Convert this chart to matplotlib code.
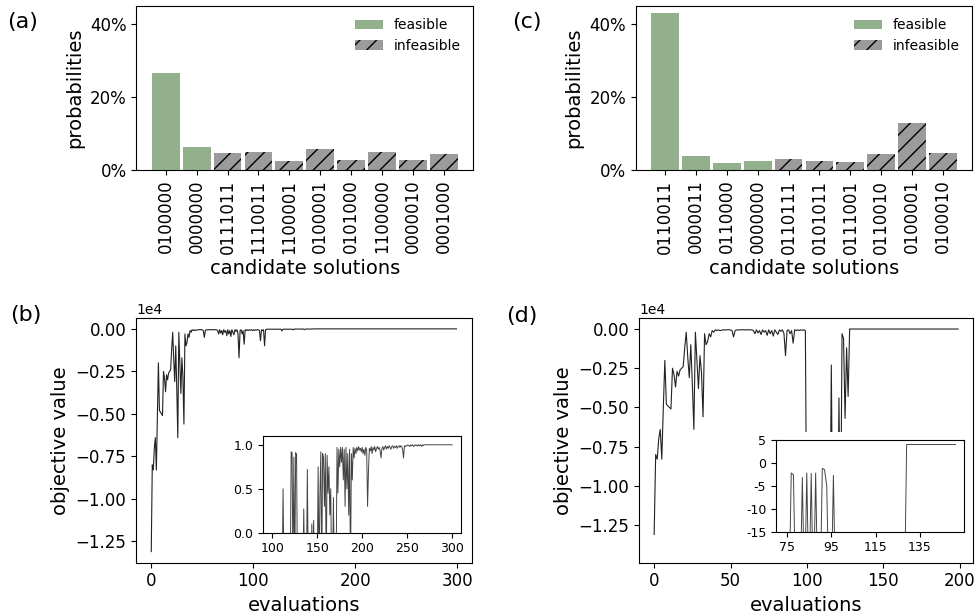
import numpy as np
import matplotlib.pyplot as plt
from matplotlib.ticker import PercentFormatter, MultipleLocator
from matplotlib.patches import Rectangle

# bar chart data (a) and (c)
labels_a = ['0100000', '0000000', '0111011', '1110011', '1100001',
            '0100001', '0101000', '1100000', '0000010', '0001000']
probs_a = [0.265, 0.064, 0.046, 0.050, 0.0255, 0.057, 0.027, 0.048, 0.028, 0.043]
feasible_a = [True, True, False, False, False, False, False, False, False, False]

labels_c = ['0110011', '0000011', '0110000', '0000000', '0110111',
            '0101011', '0111001', '0110010', '0100001', '0100010']
probs_c = [0.429, 0.039, 0.018, 0.024, 0.031, 0.025, 0.022, 0.044, 0.128, 0.047]
feasible_c = [True, True, True, True, False, False, False, False, False, False]

# objective value (units of 1e4), evaluations 0..99 shared by (b) and (d)
obj_start = [-1.31, -0.80, -0.83, -0.70, -0.64, -0.83, -0.50, -0.20, -0.48, -0.49,
             -0.50, -0.51, -0.25, -0.29, -0.37, -0.27, -0.30, -0.26, -0.25, -0.24,
             -0.12, -0.02, -0.18, -0.31, -0.10, -0.35, -0.64, -0.02, -0.20, -0.38,
             -0.17, -0.28, -0.56, -0.03, -0.10, -0.08, -0.03, -0.05, -0.01, -0.02,
             -0.005, -0.01, -0.005, -0.01, -0.008, -0.005, -0.006, -0.005, -0.005, -0.004,
             -0.006, -0.01, -0.05, -0.01, -0.005, -0.006, -0.005, -0.005, -0.004, -0.005,
             -0.006, -0.005, -0.004, -0.006, -0.005, -0.01, -0.03, -0.005, -0.025, -0.01,
             -0.035, -0.005, -0.02, -0.01, -0.04, -0.005, -0.03, -0.01, -0.045, -0.005,
             -0.02, -0.035, -0.005, -0.015, -0.005, -0.03, -0.17, -0.01, -0.005, -0.03,
             -0.01, -0.09, -0.005, -0.01, -0.005, -0.01, -0.005, -0.008, -0.005, -0.01]

# (b) evaluations 100..299
obj_tail_b = ([-0.005, -0.01, -0.005, -0.008, -0.004, -0.006, -0.01, -0.07, -0.005, -0.01,
               -0.005, -0.10, -0.005] + [-0.002] * 15 + [-0.012] + [-0.002] * 10 + [-0.006]
              + [-0.001] * 10 + [-0.005] + [-0.001] * 8 + [0.0] * 141)

# (d) evaluations 100..199 (the low values sit hidden behind the inset)
obj_tail_d = ([-1.47] * 16 + [-0.23, -1.47, -1.47, -1.47, -1.47, -0.44, -1.47, -0.03, -0.06,
                              -0.57, -0.12, -0.43] + [0.0] * 72)

# inset (b), evaluations 100..300
inset_b = ([-0.5] * 12 + [0.5] + [-0.5] * 8
           + [0.92, 0.91, -0.5, 0.86, -0.5, 0.91, 0.89, -0.5]
           + [-0.5] * 6 + [0.27] + [-0.5] * 3 + [0.72] + [-0.5] * 4
           + [0.10, -0.5, 0.14] + [-0.5] * 4 + [0.75] + [-0.5]
           + [0.42, 0.92, -0.5, 0.90, 0.85, 0.3, 0.90, -0.5, 0.88, 0.45, 0.75, 0.2, 0.5, -0.5]
           + [-0.5, 0.4, -0.5, -0.5, -0.5]
           + [0.97, 0.45, 0.95, 0.75, 0.97, 0.8, 0.97, 0.6, 0.95, 0.3, 0.97, 0.5, 0.9, 0.2,
              0.95, -0.5, 0.9, 0.6, 0.97, 0.85, 0.96, 0.9, 0.97, 0.93, 0.98, 0.94, 0.96,
              0.92, 0.97, 0.9, 0.95, 0.88, 0.97]
           + [0.94, 0.3, 0.7]
           + [0.96, 0.93, 0.98, 0.9, 0.97, 0.94, 0.98, 0.92, 0.96, 0.98,
              0.95, 0.97, 0.93, 0.85, 0.96, 0.98, 0.94, 0.97, 0.99, 0.95,
              0.98, 0.96, 0.99, 0.97, 0.95, 0.98, 0.99, 0.96, 0.98, 0.97,
              0.99, 0.96, 0.98, 0.99, 0.97, 0.99, 0.98, 0.95, 0.85, 0.99, 0.98, 0.99]
           + [0.99, 1.0, 0.99, 0.98, 1.0, 0.99, 1.0, 0.98, 0.99, 1.0,
              0.99, 1.0, 0.985, 1.0, 0.99, 1.0, 0.98, 1.0, 0.99, 1.0]
           + [1.0] * 31)

# inset (d), evaluations 74..151
inset_d = ([-30] * 3 + [-2.2, -2.6] + [-30] * 3 + [-3.2, -30, -2.2, -30, -2.3, -30, -2.2,
           -30, -30, -1.2, -1.5, -5.0, -30, -30, -2.7] + [-30] * 32 + [4.0] * 23)

green = '#93b08d'
grey = '#9b9b9b'

fig = plt.figure(figsize=(9.77, 6.16), dpi=100)

def bar_panel(rect, labels, probs, feas, tag, tagx):
    ax = fig.add_axes(rect)
    x = np.arange(len(labels))
    feas = np.array(feas)
    p = np.array(probs)
    ax.bar(x[feas], p[feas], width=0.9, color=green, label='feasible')
    ax.bar(x[~feas], p[~feas], width=0.9, color=grey, hatch='//', label='infeasible')
    ax.set_xticks(x)
    ax.set_xticklabels(labels, rotation=90, fontsize=12)
    ax.set_ylim(0, 0.45)
    ax.set_yticks([0, 0.2, 0.4])
    ax.yaxis.set_major_formatter(PercentFormatter(1, decimals=0))
    ax.tick_params(axis='y', labelsize=12)
    ax.set_xlabel('candidate solutions', fontsize=14)
    ax.set_ylabel('probabilities', fontsize=14)
    ax.legend(loc='upper right', frameon=False, fontsize=10)
    fig.text(tagx, 1 - 22 / 616, tag, fontsize=16, ha='center', va='center')
    return ax

bar_panel([0.1397, 0.724, 0.3447, 0.2667], labels_a, probs_a, feasible_a, '(a)', 23 / 977)
bar_panel([0.6507, 0.724, 0.3445, 0.2667], labels_c, probs_c, feasible_c, '(c)', 527 / 977)

# (b)
obj_b = np.array(obj_start + obj_tail_b) * 1e4
axb = fig.add_axes([0.1392, 0.0865, 0.3436, 0.3977])
axb.plot(np.arange(len(obj_b)), obj_b, color='#222222', lw=0.8)
axb.set_xticks([0, 100, 200, 300])
axb.yaxis.set_major_locator(MultipleLocator(2500))
axb.ticklabel_format(axis='y', style='sci', scilimits=(0, 0))
axb.yaxis.get_offset_text().set_fontsize(10)
axb.tick_params(labelsize=12)
axb.set_xlabel('evaluations', fontsize=14)
axb.set_ylabel('objective value', fontsize=14)
fig.text(26 / 977, 1 - 315 / 616, '(b)', fontsize=16, ha='center', va='center')

insb = fig.add_axes([0.2695, 0.1352, 0.2024, 0.157])
insb.plot(np.arange(100, 100 + len(inset_b)), inset_b, color='#444444', lw=0.7)
insb.set_ylim(0, 1.1)
insb.set_xticks([100, 150, 200, 250, 300])
insb.set_yticks([0.0, 0.5, 1.0])
insb.tick_params(labelsize=9)

# (d)
obj_d = np.array(obj_start + obj_tail_d) * 1e4
axd = fig.add_axes([0.654, 0.0865, 0.3422, 0.3977])
axd.plot(np.arange(len(obj_d)), obj_d, color='#222222', lw=0.8)
axd.set_ylim(-1.49e4, 0.072e4)
axd.set_xticks([0, 50, 100, 150, 200])
axd.yaxis.set_major_locator(MultipleLocator(2500))
axd.ticklabel_format(axis='y', style='sci', scilimits=(0, 0))
axd.yaxis.get_offset_text().set_fontsize(10)
axd.tick_params(labelsize=12)
axd.set_xlabel('evaluations', fontsize=14)
axd.set_ylabel('objective value', fontsize=14)
fig.text(522 / 977, 1 - 316 / 616, '(d)', fontsize=16, ha='center', va='center')

# white box behind the inset hides the low part of the curve
fig.patches.append(Rectangle((745 / 977, 1 - 562.2 / 616), 222 / 977, 130.2 / 616,
                             transform=fig.transFigure, facecolor='white',
                             edgecolor='none', zorder=1))

insd = fig.add_axes([0.7943, 0.1369, 0.1924, 0.1489], zorder=2)
insd.plot(np.arange(74, 74 + len(inset_d)), inset_d, color='#444444', lw=0.7)
insd.set_ylim(-15, 5)
insd.set_xticks([75, 95, 115, 135])
insd.set_yticks([5, 0, -5, -10, -15])
insd.set_yticklabels(['5', '0', '-5', '-10', '-15'])
insd.tick_params(labelsize=9)

fig.savefig('out.png', dpi=100)
